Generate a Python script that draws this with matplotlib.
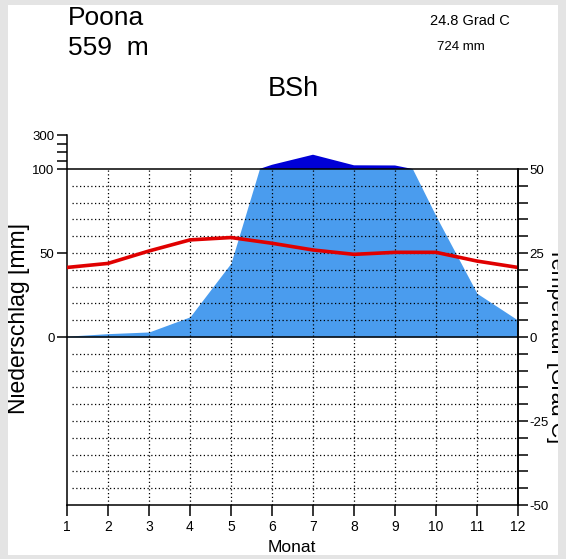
"""Walter-Lieth climate diagram for Poona (BSh).

Writes:
    out.png
"""
from __future__ import annotations

import matplotlib
matplotlib.use("Agg")
import matplotlib.pyplot as plt
import numpy as np
from matplotlib.patches import Rectangle

matplotlib.rcParams["font.family"] = ["Liberation Sans", "DejaVu Sans"]

STATION = "Poona"
ELEVATION = "559  m"
CLIMATE = "BSh"
MEAN_TEMP = "24.8 Grad C"
TOTAL_PREC = "724 mm"

MONTHS = [1, 2, 3, 4, 5, 6, 7, 8, 9, 10, 11, 12]
# monthly precipitation (mm) and mean temperature (deg C)
PRECIP = [0.5, 2, 3, 12, 44, 125, 185, 122, 121, 72, 26, 10]
TEMP = [20.7, 21.9, 25.6, 28.9, 29.6, 27.9, 25.9, 24.6, 25.2, 25.2, 22.6, 20.7]

LEFT_TICKS_MM = [0, 50, 100, 150, 200, 250, 300]
LEFT_LABELS = ["0", "50", "100", "", "", "", "300"]
RIGHT_TICKS = list(range(-50, 55, 5))
RIGHT_LABELS = {-50: "-50", -25: "-25", 0: "0", 25: "25", 50: "50"}

LIGHT_BLUE = "#4a9cee"
DARK_BLUE = "#0000d8"
RED = "#e00000"
BORDER = "#e4e4e4"


def mm_to_units(p):
    """10 deg C == 20 mm up to 100 mm, above that 10 deg C == 200 mm."""
    p = np.asarray(p, dtype=float)
    return np.where(p > 100, 50 + (p - 100) / 20.0, p / 2.0)


def perhumid_outline(months, prec):
    """Outline of the >100 mm part; the 100 mm crossings are taken on the raw scale."""
    xs, ys = [], []
    for i in range(len(months)):
        if i > 0 and (prec[i - 1] > 100) != (prec[i] > 100):
            f = (100 - prec[i - 1]) / (prec[i] - prec[i - 1])
            xs.append(months[i - 1] + f * (months[i] - months[i - 1]))
            ys.append(50.0)
        if prec[i] > 100:
            xs.append(months[i])
            ys.append(float(mm_to_units(prec[i])))
    return xs, ys


def main() -> int:
    W, H = 566, 559
    fig = plt.figure(figsize=(W / 100, H / 100), dpi=100, facecolor="white")
    ax = fig.add_axes([67 / W, 54 / H, 451 / W, (505 - 135.4) / H])
    ax.set_xlim(1, 12)
    ax.set_ylim(-50, 60)
    ax.set_facecolor("none")

    months = np.array(MONTHS, dtype=float)
    prec = np.array(PRECIP, dtype=float)

    # humid part (light blue), raw scale, cut at 100 mm
    fill = ax.fill_between(months, 0, prec / 2.0, color=LIGHT_BLUE, lw=0, zorder=1)
    fill.set_clip_path(Rectangle((1, 0), 11, 50, transform=ax.transData))

    # perhumid part (dark blue), compressed scale above 100 mm
    xs, ys = perhumid_outline(months, prec)
    ax.fill(xs, ys, color=DARK_BLUE, lw=0, zorder=1)

    # dotted grid
    for m in MONTHS[1:-1]:
        ax.plot([m, m], [-50, 50], ls=(0, (1, 2)), color="black", lw=0.9, zorder=2)
    for v in RIGHT_TICKS:
        if v in (-50, 0, 50):
            continue
        ax.plot([1.12, 12], [v, v], ls=(0, (1, 2)), color="black", lw=0.9, zorder=2)

    ax.plot([1, 12], [0, 0], color="black", lw=1.1, zorder=3)
    ax.plot([1, 12], [50, 50], color="black", lw=1.1, zorder=3)

    ax.plot(months, TEMP, color=RED, lw=2.6, zorder=4, solid_capstyle="butt")

    # axes / spines
    ax.spines["top"].set_visible(False)
    ax.spines["left"].set_bounds(-50, 60)
    ax.spines["right"].set_bounds(-50, 50)
    for s in ax.spines.values():
        s.set_linewidth(1.1)

    ax.set_xticks(MONTHS)
    ax.set_xticklabels([str(m) for m in MONTHS], fontsize=10)
    ax.tick_params(axis="x", direction="out", length=8, width=1.1, pad=3)

    ax.set_yticks(mm_to_units(LEFT_TICKS_MM))
    ax.set_yticklabels(LEFT_LABELS, fontsize=9.5)
    ax.tick_params(axis="y", direction="out", length=7, width=1.1, pad=2)

    axr = ax.twinx()
    axr.set_ylim(-50, 60)
    axr.set_yticks(RIGHT_TICKS)
    axr.set_yticklabels([RIGHT_LABELS.get(v, "") for v in RIGHT_TICKS], fontsize=9.5)
    axr.tick_params(axis="y", direction="out", length=7, width=1.1, pad=1)
    for name in ("top", "left", "bottom"):
        axr.spines[name].set_visible(False)
    axr.spines["right"].set_bounds(-50, 50)
    axr.spines["right"].set_linewidth(1.1)

    # texts
    fig.text(68 / W, 1 - 18 / H, STATION, fontsize=19, ha="left", va="center")
    fig.text(68 / W, 1 - 48 / H, ELEVATION, fontsize=19, ha="left", va="center")
    fig.text(470 / W, 1 - 21 / H, MEAN_TEMP, fontsize=10.5, ha="center", va="center")
    fig.text(461 / W, 1 - 47 / H, TOTAL_PREC, fontsize=9.5, ha="center", va="center")
    fig.text(293 / W, 1 - 89 / H, CLIMATE, fontsize=19.5, ha="center", va="center")
    fig.text(292 / W, 1 - 547 / H, "Monat", fontsize=12.5, ha="center", va="center")
    fig.text(19 / W, 1 - 318 / H, "Niederschlag [mm]", fontsize=16.5,
             rotation=90, ha="center", va="center")
    fig.text(557 / W, 1 - 345 / H, "Temperatur [Grad C]", fontsize=15.5,
             rotation=-90, ha="center", va="center")

    # grey frame round the picture (drawn on top, clips the right label)
    for x0, y0, w, h in [(0, 0, 8, H), (558, 0, 8, H), (0, 0, W, 5), (0, 555, W, 4)]:
        fig.add_artist(Rectangle((x0 / W, 1 - (y0 + h) / H), w / W, h / H,
                                 transform=fig.transFigure, color=BORDER,
                                 lw=0, zorder=10))

    fig.savefig("out.png", dpi=100)
    plt.close(fig)
    return 0


if __name__ == "__main__":
    raise SystemExit(main())
